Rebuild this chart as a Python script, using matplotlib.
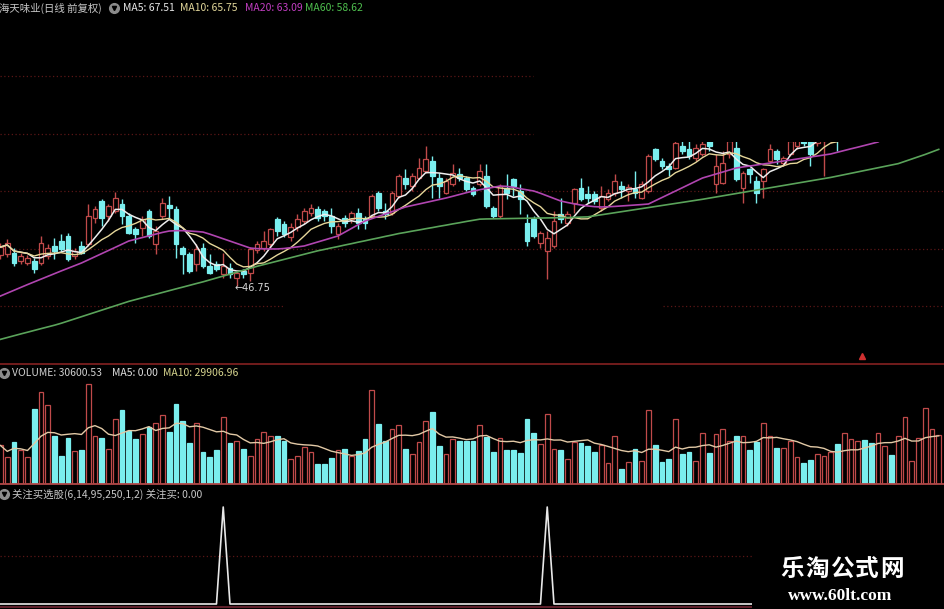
import numpy as np
import pandas as pd
import matplotlib
matplotlib.use('Agg')
import matplotlib.pyplot as plt
from matplotlib.patches import Rectangle
from matplotlib.lines import Line2D

###################################################################
# DATA (one value per trading day)
stock_title = '海天味业(日线 前复权)'
indicator_title = '关注买选股(6,14,95,250,1,2) 关注买: 0.00'

opens = [49.43, 49.52, 49.61, 48.91, 48.74, 48.91, 48.74, 49.35, 50.22, 50.65,
         51.09, 49.35, 50.22, 50.39, 52.65, 54.13, 52.83, 53.26, 53.87, 52.83,
         51.70, 51.78, 53.26, 50.39, 52.83, 53.78, 53.43, 50.04, 49.52, 48.65,
         50.04, 48.48, 48.65, 47.78, 48.30, 47.43, 48.04, 47.87, 49.87, 50.04,
         50.39, 52.57, 52.13, 51.00, 51.87, 52.39, 53.09, 53.43, 53.26, 52.83,
         51.26, 52.65, 52.57, 53.09, 52.57, 52.83, 54.83, 53.26, 53.09, 54.57,
         56.13, 55.43, 56.13, 56.74, 57.61, 56.13, 54.83, 55.61, 56.48, 56.13,
         55.26, 55.61, 56.30, 53.52, 52.83, 55.26, 56.04, 55.00, 52.22, 52.57,
         50.48, 49.78, 50.22, 53.00, 52.22, 53.96, 55.26, 54.74, 54.74, 53.52,
         54.30, 54.83, 55.43, 55.00, 55.17, 54.39, 55.00, 58.65, 57.61, 57.17,
         57.00, 58.91, 58.65, 57.87, 58.22, 59.52, 55.61, 55.70, 58.22, 58.74,
         55.26, 56.91, 55.87, 55.87, 57.61, 58.48, 57.43, 58.22, 58.91, 59.78,
         59.52, 59.17, 59.35, 59.52, 60.39, 59.60, 60.40, 61.20, 62.00, 62.30,
         62.10, 63.00, 63.90, 63.50, 64.40, 65.60, 66.20, 66.90, 67.70, 67.90]
highs = [50.48, 50.83, 50.04, 49.61, 49.43, 49.17, 51.09, 50.39, 50.91, 51.26,
         51.35, 50.04, 50.65, 53.87, 53.70, 54.30, 53.87, 54.91, 54.30, 53.09,
         51.87, 52.83, 53.43, 51.96, 54.39, 54.57, 53.70, 50.22, 49.70, 50.39,
         50.48, 49.52, 48.91, 49.61, 48.74, 48.04, 48.22, 50.13, 50.65, 51.52,
         51.78, 52.70, 52.39, 52.22, 53.00, 53.52, 53.87, 53.70, 53.43, 53.52,
         52.22, 52.91, 53.26, 53.52, 52.83, 54.74, 55.00, 53.96, 55.00, 56.48,
         56.91, 56.57, 57.87, 58.91, 58.04, 56.57, 56.13, 57.35, 57.00, 56.30,
         55.43, 57.35, 57.35, 53.70, 55.61, 56.48, 56.13, 55.61, 53.00, 52.83,
         51.52, 51.52, 53.26, 54.39, 53.26, 55.26, 56.13, 55.43, 55.00, 55.43,
         55.17, 56.48, 55.87, 55.61, 56.74, 55.87, 58.22, 58.74, 57.87, 57.43,
         59.35, 59.35, 59.35, 59.09, 59.52, 59.78, 58.22, 58.48, 59.52, 59.35,
         56.74, 57.00, 56.30, 57.00, 59.09, 58.65, 58.04, 59.61, 60.04, 60.22,
         60.04, 60.39, 60.39, 60.91, 60.74, 60.90, 61.60, 62.30, 62.40, 62.80,
         63.30, 64.00, 64.20, 64.60, 65.90, 66.60, 67.30, 68.30, 68.60, 68.90]
lows = [49.09, 49.26, 48.48, 48.65, 48.57, 47.87, 48.57, 49.09, 49.09, 49.78,
        48.91, 49.09, 49.52, 50.22, 52.22, 51.96, 52.39, 53.09, 52.13, 51.26,
        50.48, 51.09, 50.91, 49.52, 52.57, 52.65, 49.17, 47.78, 47.87, 48.04,
        48.30, 47.78, 48.04, 47.43, 47.43, 46.75, 47.43, 47.17, 49.61, 49.78,
        50.04, 51.09, 51.00, 50.65, 51.52, 52.13, 52.83, 52.39, 52.39, 51.35,
        50.83, 51.87, 52.22, 51.70, 51.70, 52.65, 53.26, 52.57, 52.91, 54.39,
        55.17, 55.00, 56.04, 56.57, 54.39, 54.39, 54.74, 55.43, 55.87, 55.00,
        54.57, 55.43, 53.52, 52.65, 52.65, 54.30, 54.57, 53.00, 50.22, 50.91,
        50.04, 47.35, 50.04, 52.22, 51.96, 53.09, 54.13, 53.96, 53.87, 53.26,
        54.13, 54.57, 54.39, 54.13, 54.39, 54.30, 54.83, 57.61, 56.91, 56.30,
        56.91, 58.22, 57.78, 57.61, 58.04, 58.48, 54.83, 55.61, 57.87, 55.87,
        53.96, 55.70, 53.96, 54.39, 57.43, 57.35, 57.17, 58.04, 58.65, 58.91,
        57.17, 58.91, 56.30, 59.17, 58.48, 59.40, 60.10, 60.90, 61.10, 61.60,
        61.90, 62.70, 63.00, 63.20, 64.10, 65.30, 65.90, 66.50, 67.30, 67.60]
closes = [50.13, 50.48, 48.74, 49.35, 49.17, 48.22, 50.48, 50.04, 49.78, 49.96,
          49.09, 49.78, 49.61, 52.83, 53.43, 52.65, 53.70, 54.39, 52.83, 51.35,
          51.26, 52.57, 51.09, 51.52, 53.96, 53.52, 50.39, 49.52, 48.04, 49.96,
          48.48, 47.87, 48.22, 48.48, 47.78, 47.87, 47.78, 49.96, 50.39, 50.65,
          51.70, 51.52, 51.26, 51.87, 52.57, 53.26, 53.52, 52.65, 52.83, 51.96,
          51.96, 52.22, 53.09, 52.22, 52.22, 54.57, 53.52, 53.00, 54.83, 56.30,
          55.61, 56.30, 57.00, 57.78, 56.30, 55.43, 55.87, 56.57, 56.13, 55.17,
          54.74, 56.74, 53.70, 52.83, 55.43, 54.83, 55.43, 54.30, 50.65, 51.09,
          51.35, 50.91, 52.39, 52.57, 53.00, 55.17, 54.30, 54.39, 54.13, 54.57,
          54.83, 55.87, 55.17, 55.35, 54.83, 55.61, 58.04, 57.78, 57.17, 56.91,
          59.17, 58.48, 58.04, 58.74, 59.09, 58.91, 57.17, 57.43, 59.35, 56.04,
          56.57, 56.48, 54.83, 56.91, 58.65, 57.78, 57.87, 59.35, 59.78, 59.17,
          58.22, 60.22, 60.04, 60.65, 59.78, 60.50, 61.30, 61.80, 61.50, 62.00,
          63.00, 63.60, 63.40, 64.30, 65.65, 66.20, 67.00, 67.80, 68.10, 68.45]
volumes = [24230, 16770, 26330, 21040, 16770, 47620, 58200, 49730, 30600, 17850,
           29130, 20590, 21040, 63560, 30600, 29130, 22120, 41250, 46540, 33340,
           28500, 31680, 35890, 38700, 43800, 33150, 50810, 39720, 25950, 38700,
           20400, 17210, 21040, 42270, 25950, 27410, 22120, 17850, 28500, 33150,
           30600, 30150, 27410, 15750, 17850, 23140, 19950, 12560, 12560, 16380,
           21040, 22120, 17850, 20590, 28500, 59730, 38060, 27410, 34870, 36980,
           22120, 18930, 26330, 40160, 45900, 24030, 18930, 28500, 27410, 27410,
           26780, 37610, 29520, 20400, 28880, 21480, 21480, 19570, 41250, 32320,
           25310, 43990, 22120, 21040, 15750, 26330, 25690, 24030, 20400, 24230,
           12940, 30600, 9370, 13580, 22120, 14660, 46540, 24230, 13580, 15750,
           41250, 18930, 19950, 14660, 32320, 19570, 31680, 34870, 27410, 30150,
           30600, 21040, 26330, 38700, 30600, 22760, 22760, 27410, 16770, 13200,
           15300, 18490, 17850, 19950, 25310, 32070, 28500, 27410, 27860, 25690,
           32070, 23590, 18300, 30150, 42270, 14660, 29130, 48260, 34870, 30600.53]
ma20 = [45.87, 46.12, 46.37, 46.61, 46.86, 47.10, 47.35, 47.58, 47.81, 48.05,
        48.28, 48.51, 48.74, 49.01, 49.28, 49.56, 49.83, 50.10, 50.38, 50.65,
        50.80, 50.95, 51.10, 51.25, 51.40, 51.52, 51.55, 51.55, 51.52, 51.48,
        51.43, 51.25, 51.05, 50.85, 50.65, 50.45, 50.25, 50.04, 49.99, 49.97,
        49.96, 49.96, 50.00, 50.07, 50.14, 50.22, 50.39, 50.57, 50.74, 50.92,
        51.09, 51.42, 51.74, 52.07, 52.39, 52.59, 52.80, 53.00, 53.20, 53.41,
        53.61, 53.74, 53.87, 54.00, 54.13, 54.26, 54.39, 54.54, 54.70, 54.85,
        55.00, 55.11, 55.22, 55.32, 55.43, 55.40, 55.32, 55.20, 55.10, 55.00,
        54.80, 54.58, 54.35, 54.13, 54.00, 53.88, 53.78, 53.70, 53.64, 53.61,
        53.63, 53.66, 53.70, 53.74, 53.78, 53.82, 53.87, 54.15, 54.43, 54.72,
        55.00, 55.28, 55.57, 55.85, 56.13, 56.30, 56.48, 56.65, 56.83, 57.00,
        57.09, 57.17, 57.26, 57.35, 57.43, 57.52, 57.61, 57.69, 57.78, 57.87,
        57.96, 58.04, 58.13, 58.22, 58.37, 58.52, 58.67, 58.81, 58.96, 59.11,
        59.26, 59.62, 60.00, 60.40, 60.80, 61.25, 61.70, 62.15, 62.62, 63.09]
ma60 = [42.10, 42.26, 42.42, 42.57, 42.72, 42.88, 43.03, 43.18, 43.33, 43.50,
        43.69, 43.88, 44.07, 44.26, 44.45, 44.64, 44.83, 45.02, 45.21, 45.40,
        45.56, 45.71, 45.87, 46.02, 46.18, 46.33, 46.49, 46.64, 46.80, 46.95,
        47.10, 47.27, 47.44, 47.61, 47.79, 47.96, 48.13, 48.30, 48.45, 48.60,
        48.75, 48.90, 49.05, 49.20, 49.35, 49.50, 49.65, 49.80, 49.92, 50.05,
        50.17, 50.30, 50.42, 50.55, 50.67, 50.80, 50.92, 51.05, 51.17, 51.30,
        51.40, 51.51, 51.61, 51.72, 51.82, 51.93, 52.03, 52.14, 52.24, 52.35,
        52.45, 52.55, 52.57, 52.58, 52.59, 52.60, 52.61, 52.62, 52.63, 52.64,
        52.65, 52.66, 52.67, 52.68, 52.69, 52.71, 52.73, 52.75, 52.84, 52.93,
        53.02, 53.11, 53.20, 53.29, 53.38, 53.47, 53.56, 53.65, 53.74, 53.83,
        53.92, 54.01, 54.10, 54.19, 54.28, 54.38, 54.48, 54.58, 54.68, 54.78,
        54.88, 54.98, 55.08, 55.18, 55.28, 55.38, 55.48, 55.58, 55.68, 55.78,
        55.88, 55.98, 56.08, 56.18, 56.30, 56.42, 56.54, 56.66, 56.78, 56.90,
        57.02, 57.14, 57.26, 57.38, 57.58, 57.78, 57.98, 58.18, 58.40, 58.62]
signal_days = [33, 81]          # days where the 关注买 line spikes to 1
low_day, low_label = 35, '\u219046.75'

###################################################################
# STYLE
UP = '#c04a4a'
DOWN = '#7aeeee'
GRID = '#5a1616'
SEP = '#7a1f1f'
W, H = 945, 609
VIS_TOP = 59.3                  # everything above this price is blacked out in the shot

plt.rcParams['font.family'] = ['Noto Sans CJK SC', 'DejaVu Sans']


def fx(x):
    return x / W


def fy(y):
    return 1 - y / H


n = len(closes)
x = np.arange(n)
o = np.array(opens)
c = np.array(closes)
up = c >= o
cols = np.where(up, UP, DOWN)

ma5 = pd.Series(closes).rolling(5, min_periods=1).mean()
ma10 = pd.Series(closes).rolling(10, min_periods=1).mean()
vol_ma10 = pd.Series(volumes).rolling(10, min_periods=1).mean()
signal = np.zeros(n)
signal[signal_days] = 1

fig = plt.figure(figsize=(W / 100, H / 100), dpi=100, facecolor='black')
xlim = (-0.07, n - 0.07)

## Price panel
ax = fig.add_axes([0, fy(363.5), 1, 345 / H])
ax.set_xlim(*xlim)
ax.set_ylim(40, 70)
ax.axis('off')

# dotted grid (pieces are hidden in the shot)
gx = lambda px: (px - 0.5) / 6.75
ax.plot([xlim[0], gx(283)], [45, 45], ls=(0, (1, 2)), color=GRID, lw=0.9, zorder=0)
ax.plot([gx(663), xlim[1]], [45, 45], ls=(0, (1, 2)), color=GRID, lw=0.9, zorder=0)
for lvl in (50, 55):
    ax.plot(xlim, [lvl, lvl], ls=(0, (1, 2)), color=GRID, lw=0.9, zorder=0)
for lvl in (60, 65):
    ax.plot([xlim[0], gx(533)], [lvl, lvl], ls=(0, (1, 2)), color=GRID, lw=0.9, zorder=6)

ax.vlines(x, lows, highs, colors=cols, lw=1, zorder=2)
body = np.maximum(np.abs(c - o), 0.04)
ax.bar(x, body, bottom=np.minimum(o, c), width=0.72,
       color=np.where(up, 'black', DOWN), edgecolor=cols, lw=0.9, zorder=3)

ax.plot(x, ma5, color='#eeeeee', lw=1.1, zorder=4)
ax.plot(x, ma10, color='#e6d79a', lw=1.0, zorder=4)
ax.plot(x, ma20, color='#b045b0', lw=1.2, zorder=4)
ax.plot(x, ma60, color='#5aa35a', lw=1.2, zorder=4)

ax.add_patch(Rectangle((xlim[0], VIS_TOP), n + 1, 12, facecolor='black', zorder=5))
ax.text(low_day - 0.3, lows[low_day] - 0.2, low_label, color='#d8d8d8',
        fontsize=7, ha='left', va='center', family='DejaVu Sans', zorder=6)

## Volume panel
axv = fig.add_axes([0, fy(483.5), 1, 118.5 / H])
axv.set_xlim(*xlim)
axv.set_ylim(0, 118.5 * 637.5)
axv.axis('off')
axv.bar(x, volumes, width=0.72, color=np.where(up, 'black', DOWN),
        edgecolor=cols, lw=0.9, zorder=2)
axv.plot(x, vol_ma10, color='#e2c9a6', lw=1.0, zorder=3)

## Indicator panel
axi = fig.add_axes([0, fy(606), 1, 120 / H])
axi.set_xlim(*xlim)
axi.set_ylim(-2 / 97, 118 / 97)
axi.axis('off')
axi.plot(xlim, [0.5, 0.5], ls=(0, (1, 2)), color=GRID, lw=0.9, zorder=0)
axi.plot(x, signal, color='#e8e8e8', lw=1.2, zorder=2)

# panel separators
for yy, col in ((364, SEP), (484, '#b04848'), (607, '#6a2430')):
    fig.add_artist(Line2D([0, 1], [fy(yy), fy(yy)], color=col, lw=1.3))

# small red marker at the bottom right of the price panel
fig.add_artist(Line2D([fx(862)], [fy(356)], marker='^', ms=4, color='#d03030', lw=0))


## Header texts
def icon(px, py):
    fig.add_artist(Line2D([fx(px)], [fy(py)], marker='o', ms=7, color='#8c8c8c', lw=0))
    fig.add_artist(Line2D([fx(px)], [fy(py)], marker='v', ms=3, color='black', lw=0))


def label(px, py, s, col, size=7.5):
    fig.text(fx(px), fy(py), s, color=col, fontsize=size, ha='left', va='center')


label(-1, 8, stock_title, '#c8c8c8')
icon(114, 8)
label(123, 8, 'MA5: 67.51', '#e8e8e8')
label(180, 8, 'MA10: 65.75', '#e2d79a')
label(245, 8, 'MA20: 63.09', '#c23ec2')
label(305, 8, 'MA60: 58.62', '#4fc04f')

icon(4, 373)
label(12, 373, 'VOLUME: 30600.53', '#d0d0d0')
label(112, 373, 'MA5: 0.00', '#e0e0e0')
label(163, 373, 'MA10: 29906.96', '#d6d48e')

icon(4, 494)
label(12, 494, indicator_title, '#c8c8c8')

## Watermark box
fig.add_artist(Rectangle((fx(752), 0), 1 - fx(752), fy(535), transform=fig.transFigure,
                         facecolor='black', edgecolor='none', zorder=10))
for k, ch in enumerate('乐淘公式网'):
    fig.text(fx(780 + 25 * k), fy(569), ch, color='white', fontsize=17,
             weight='bold', ha='left', va='center', zorder=11)
fig.text(fx(840), fy(596), 'www.60lt.com', color='white', fontsize=12.5, weight='bold',
         family='Liberation Serif', ha='center', va='center', zorder=11)

plt.savefig('out.png', dpi=100, facecolor='black')
plt.close()
